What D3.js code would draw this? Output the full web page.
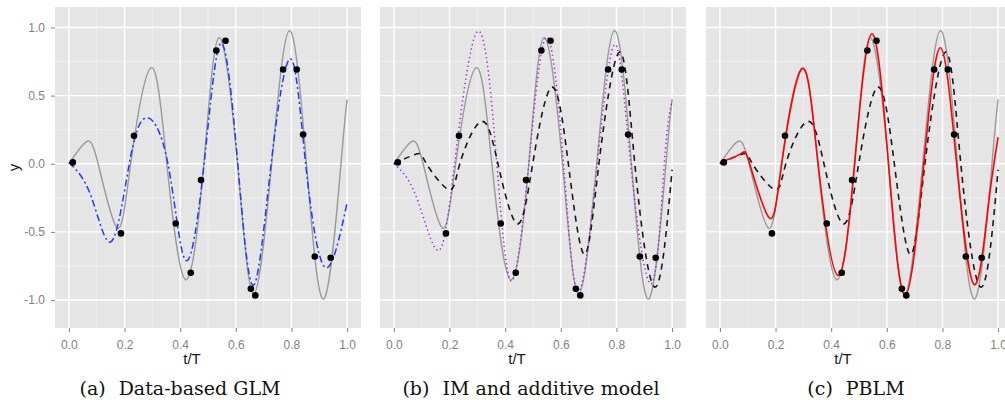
<!DOCTYPE html>
<html>
<head>
<meta charset="utf-8">
<script src="https://cdn.jsdelivr.net/npm/d3@7"></script>
<style>
  html, body { margin: 0; padding: 0; background: #ffffff; }
  svg { display: block; }
</style>
</head>
<body>
<svg id="chart" width="1005" height="400"></svg>
<script>
// ---------- data ----------
const xTicks = [0.0, 0.2, 0.4, 0.6, 0.8, 1.0];
const yTicks = [-1.0, -0.5, 0.0, 0.5, 1.0];
const xMinor = [0.1, 0.3, 0.5, 0.7, 0.9];
const yMinor = [-0.75, -0.25, 0.25, 0.75];

// observed data points
const obsT = [0.014, 0.187, 0.234, 0.384, 0.438, 0.475, 0.530, 0.563, 0.654, 0.670, 0.770, 0.819, 0.842, 0.884, 0.941];
const obsY = [0.01, -0.511, 0.205, -0.438, -0.800, -0.120, 0.831, 0.902, -0.917, -0.966, 0.692, 0.692, 0.215, -0.680, -0.690];

// true signal (grey solid)
const trueT = [0.000, 0.062, 0.105, 0.173, 0.222, 0.295, 0.352, 0.420, 0.485, 0.540, 0.606, 0.664, 0.729, 0.793, 0.854, 0.917, 0.978, 1.000];
const trueY = [0.000, 0.161, 0.000, -0.469, 0.000, 0.704, 0.000, -0.851, 0.000, 0.924, 0.000, -0.955, 0.000, 0.978, 0.000, -0.990, 0.000, 0.472];

// (a) data-based GLM (blue dot-dash)
const glmT = [0.000, 0.080, 0.153, 0.217, 0.277, 0.356, 0.420, 0.486, 0.547, 0.607, 0.663, 0.727, 0.797, 0.851, 0.920, 1.000];
const glmY = [0.010, -0.240, -0.570, 0.000, 0.337, 0.000, -0.709, 0.000, 0.885, 0.000, -0.892, 0.000, 0.770, 0.000, -0.758, -0.286];

// (b) IM (purple dotted)
const imT = [0.000, 0.080, 0.159, 0.218, 0.303, 0.370, 0.423, 0.485, 0.549, 0.610, 0.663, 0.731, 0.795, 0.851, 0.926, 0.972, 1.000];
const imY = [0.000, -0.240, -0.636, 0.000, 0.973, 0.000, -0.861, 0.000, 0.929, 0.000, -0.941, 0.000, 0.875, 0.000, -0.880, 0.000, 0.465];

// additive model (black dashed), in (b) and (c)
const addT = [0.000, 0.084, 0.117, 0.197, 0.237, 0.314, 0.374, 0.443, 0.499, 0.568, 0.627, 0.684, 0.737, 0.811, 0.866, 0.938, 1.000];
const addY = [0.000, 0.073, 0.000, -0.190, 0.000, 0.310, 0.000, -0.440, 0.000, 0.562, 0.000, -0.665, 0.000, 0.819, 0.000, -0.905, -0.044];

// (c) PBLM (red solid)
const pblmT = [0.000, 0.075, 0.107, 0.177, 0.222, 0.296, 0.353, 0.424, 0.484, 0.546, 0.606, 0.666, 0.733, 0.793, 0.851, 0.913, 0.964, 1.000];
const pblmY = [0.010, 0.073, 0.000, -0.396, 0.000, 0.697, 0.000, -0.819, 0.000, 0.954, 0.000, -0.966, 0.000, 0.851, 0.000, -0.885, -0.320, 0.196];

const capLabels = ["(a)", "(b)", "(c)"];
const capTexts = ["Data-based GLM", "IM and additive model", "PBLM"];
const xTitle = "t/T";
const yTitle = "y";

// ---------- helpers ----------
const zip = (ts, ys) => ts.map((t, i) => [t, ys[i]]);
const truth = zip(trueT, trueY);
const glm = zip(glmT, glmY);
const im = zip(imT, imY);
const add = zip(addT, addY);
const pblm = zip(pblmT, pblmY);
const obs = zip(obsT, obsY);

const styles = {
  truth: { stroke: "#9a9a9a", width: 1.4, dash: null },
  glm:   { stroke: "#2038ff", width: 1.5, dash: "7,3,2,3" },
  im:    { stroke: "#a52af0", width: 1.5, dash: "1.4,3" },
  add:   { stroke: "#1a1a1a", width: 1.6, dash: "6,5" },
  pblm:  { stroke: "#ff0000", width: 1.6, dash: null }
};

const panels = [
  { left: 55,  series: [["truth", truth], ["glm", glm]], yAxis: true, capCx: 180 },
  { left: 380, series: [["truth", truth], ["im", im], ["add", add]], yAxis: false, capCx: 531 },
  { left: 706, series: [["truth", truth], ["add", add], ["pblm", pblm]], yAxis: false, capCx: 856 }
];

const plotW = 306, plotTop = 7, plotBottom = 328;
const svg = d3.select("#chart");
const tickColor = "#7f7f7f";
const sans = "'Liberation Sans', Arial, sans-serif";

const y = d3.scaleLinear().domain([-1.205, 1.15]).range([plotBottom, plotTop]);

panels.forEach((p, pi) => {
  const x = d3.scaleLinear().domain([-0.05, 1.05]).range([p.left, p.left + plotW]);
  const g = svg.append("g");

  g.append("rect").attr("x", p.left).attr("y", plotTop)
    .attr("width", plotW).attr("height", plotBottom - plotTop).attr("fill", "#e5e5e5");

  g.selectAll(".vminor").data(xMinor).join("line")
    .attr("x1", d => x(d)).attr("x2", d => x(d)).attr("y1", plotTop).attr("y2", plotBottom)
    .attr("stroke", "#f2f2f2").attr("stroke-width", 0.8);
  g.selectAll(".hminor").data(yMinor).join("line")
    .attr("x1", p.left).attr("x2", p.left + plotW).attr("y1", d => y(d)).attr("y2", d => y(d))
    .attr("stroke", "#f2f2f2").attr("stroke-width", 0.8);
  g.selectAll(".vmajor").data(xTicks).join("line")
    .attr("x1", d => x(d)).attr("x2", d => x(d)).attr("y1", plotTop).attr("y2", plotBottom)
    .attr("stroke", "#ffffff").attr("stroke-width", 1.4);
  g.selectAll(".hmajor").data(yTicks).join("line")
    .attr("x1", p.left).attr("x2", p.left + plotW).attr("y1", d => y(d)).attr("y2", d => y(d))
    .attr("stroke", "#ffffff").attr("stroke-width", 1.4);

  const clipId = "clip" + pi;
  svg.append("clipPath").attr("id", clipId).append("rect")
    .attr("x", p.left).attr("y", plotTop).attr("width", plotW).attr("height", plotBottom - plotTop);
  const plot = g.append("g").attr("clip-path", `url(#${clipId})`);

  const line = d3.line().x(d => x(d[0])).y(d => y(d[1])).curve(d3.curveNatural);
  p.series.forEach(([name, data]) => {
    const s = styles[name];
    plot.append("path").datum(data).attr("d", line)
      .attr("fill", "none").attr("stroke", s.stroke).attr("stroke-width", s.width)
      .attr("stroke-dasharray", s.dash).attr("stroke-linejoin", "round")
      .attr("stroke-linecap", "butt");
  });

  plot.selectAll("circle").data(obs).join("circle")
    .attr("cx", d => x(d[0])).attr("cy", d => y(d[1])).attr("r", 3.3)
    .attr("fill", "#000000");

  const xa = g.append("g").attr("transform", `translate(0,${plotBottom})`)
    .call(d3.axisBottom(x).tickValues(xTicks).tickFormat(d => d.toFixed(1)).tickSize(4).tickPadding(8));
  xa.select(".domain").remove();
  xa.selectAll("line").attr("stroke", tickColor);
  xa.selectAll("text").attr("fill", tickColor).style("font-family", sans).style("font-size", "12px");

  if (p.yAxis) {
    const ya = g.append("g").attr("transform", `translate(${p.left},0)`)
      .call(d3.axisLeft(y).tickValues(yTicks).tickFormat(d => d.toFixed(1)).tickSize(4).tickPadding(6));
    ya.select(".domain").remove();
    ya.selectAll("line").attr("stroke", tickColor);
    ya.selectAll("text").attr("fill", tickColor).style("font-family", sans).style("font-size", "12px");
    g.append("text").attr("transform", `translate(19,${(plotTop + plotBottom) / 2}) rotate(-90)`)
      .attr("text-anchor", "middle").style("font-family", sans).style("font-size", "15px")
      .attr("fill", "#1a1a1a").text(yTitle);
  }

  g.append("text").attr("x", p.left + 137).attr("y", 363.5)
    .attr("text-anchor", "middle").style("font-family", sans).style("font-size", "15px")
    .attr("fill", "#1a1a1a").text(xTitle);

  const cap = svg.append("text").attr("x", p.capCx).attr("y", 395)
    .attr("text-anchor", "middle").style("font-family", "'DejaVu Serif', serif")
    .style("font-size", "19px").attr("fill", "#111");
  cap.append("tspan").text(capLabels[pi]);
  cap.append("tspan").attr("dx", 13).text(capTexts[pi]);
});
</script>
</body>
</html>
